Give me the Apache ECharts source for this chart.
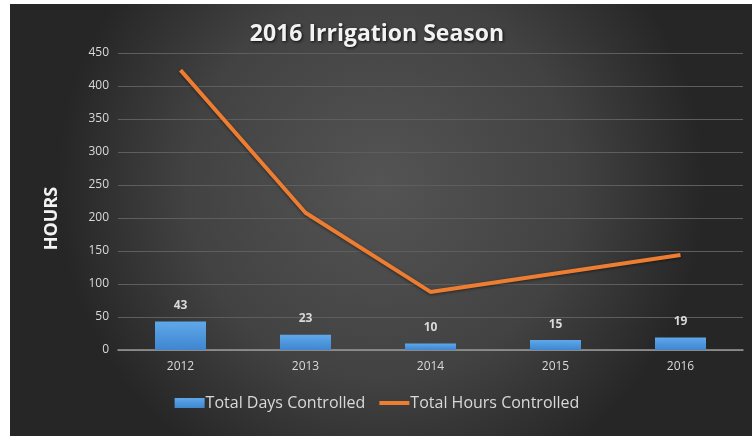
<!DOCTYPE html>
<html>
<head>
<meta charset="utf-8">
<script src="https://cdn.jsdelivr.net/npm/echarts@6/dist/echarts.min.js"></script>
<style>
  html, body { margin: 0; padding: 0; background: #fff; }
  #chart { width: 754px; height: 437px; }
</style>
</head>
<body>
<div id="chart"></div>
<script>
const years = ['2012', '2013', '2014', '2015', '2016'];
const daysControlled = [43, 23, 10, 15, 19];
const hoursControlled = [424, 208, 88, 116, 144];

const chart = echarts.init(document.getElementById('chart'), null, { renderer: 'canvas' });

const labelColor = '#d9d9d9';
const font = '"Open Sans", sans-serif';

chart.setOption({
  animation: false,
  backgroundColor: '#ffffff',
  graphic: [{
    type: 'rect',
    z: -10,
    shape: { x: 10, y: 4, width: 742, height: 432 },
    style: {
      fill: new echarts.graphic.RadialGradient(0.5, 0.42, 0.75, [
        { offset: 0, color: '#545454' },
        { offset: 0.6, color: '#424242' },
        { offset: 1, color: '#262626' }
      ])
    }
  }],
  title: {
    text: '2016 Irrigation Season',
    left: 'center',
    top: 18,
    textStyle: {
      color: '#f2f2f2',
      fontSize: 23,
      fontWeight: 'bold',
      fontFamily: font,
      textShadowColor: 'rgba(0,0,0,0.8)',
      textShadowBlur: 3,
      textShadowOffsetX: 1,
      textShadowOffsetY: 1
    }
  },
  legend: {
    bottom: 21,
    left: 'center',
    itemGap: 14,
    itemWidth: 30,
    itemHeight: 10,
    textStyle: { color: labelColor, fontSize: 16, fontFamily: font, padding: [0, 0, 0, -4] },
    data: [
      { name: 'Total Days Controlled', icon: 'rect' },
      { name: 'Total Hours Controlled', icon: 'path://M0,3 L30,3 L30,7 L0,7 Z' }
    ]
  },
  grid: { left: 118, right: 11, top: 53, bottom: 87 },
  xAxis: {
    type: 'category',
    data: years,
    axisLine: { lineStyle: { color: '#9a9a9a', width: 1.5 } },
    axisTick: { show: false },
    axisLabel: { color: labelColor, fontSize: 12, fontFamily: font, margin: 11 }
  },
  yAxis: {
    type: 'value',
    min: 0,
    max: 450,
    interval: 50,
    name: 'HOURS',
    nameLocation: 'middle',
    nameGap: 57,
    nameRotate: 90,
    nameTextStyle: {
      color: '#f2f2f2', fontSize: 18, fontWeight: 'bold', fontFamily: font,
      padding: [0, 34, 0, 0]
    },
    axisLine: { show: false },
    axisTick: { show: false },
    axisLabel: { color: labelColor, fontSize: 12, fontFamily: font, margin: 9 },
    splitLine: { lineStyle: { color: '#5e5e5e', width: 1 } }
  },
  series: [
    {
      name: 'Total Days Controlled',
      type: 'bar',
      data: daysControlled,
      barWidth: 51,
      itemStyle: {
        color: new echarts.graphic.LinearGradient(0, 0, 0, 1, [
          { offset: 0, color: '#5ea8ea' },
          { offset: 1, color: '#3f86cf' }
        ])
      },
      label: {
        show: true,
        position: 'top',
        distance: 10,
        color: labelColor,
        fontSize: 12,
        fontWeight: 'bold',
        fontFamily: font
      }
    },
    {
      name: 'Total Hours Controlled',
      type: 'line',
      data: hoursControlled,
      symbol: 'none',
      lineStyle: {
        color: '#ed7d31',
        width: 4,
        shadowColor: 'rgba(0,0,0,0.5)',
        shadowBlur: 3,
        shadowOffsetY: 1
      },
      itemStyle: { color: '#ed7d31' }
    }
  ]
});
</script>
</body>
</html>
